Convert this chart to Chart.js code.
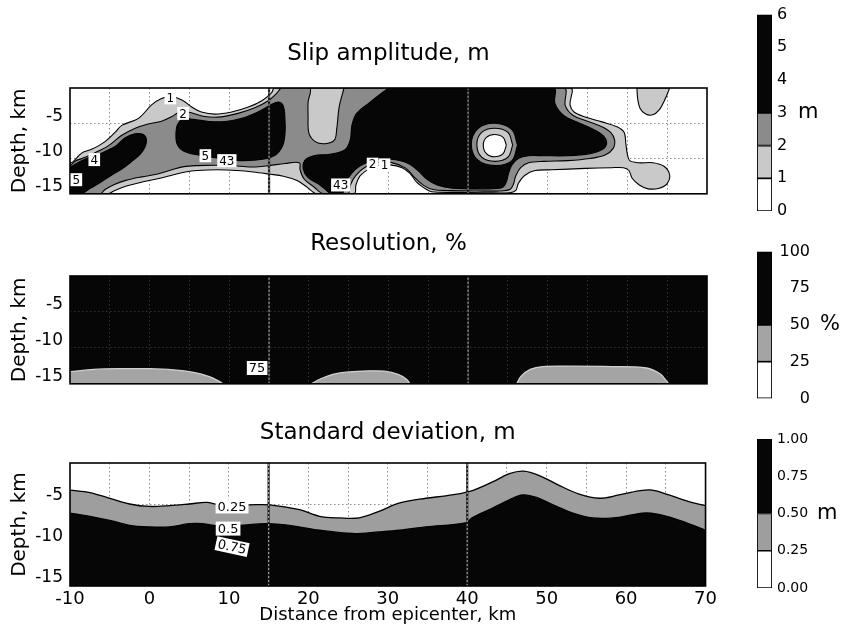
<!DOCTYPE html>
<html>
<head>
<meta charset="utf-8">
<title>Slip amplitude, resolution and standard deviation</title>
<script src="https://cdn.jsdelivr.net/npm/chart.js@4.4.1/dist/chart.umd.min.js"></script>
<style>
  html, body { margin: 0; padding: 0; background: #fff; }
  #wrap { position: relative; width: 851px; height: 636px; overflow: hidden; }
  canvas { position: absolute; }
</style>
</head>
<body>
<div id="wrap">
  <canvas id="slipChart" width="720" height="171" style="left:0;top:40px"></canvas>
  <canvas id="resChart" width="720" height="171" style="left:0;top:230px"></canvas>
  <canvas id="sdChart" width="720" height="211" style="left:0;top:419px"></canvas>
  <canvas id="slipBar" width="111" height="230" style="left:740px;top:0"></canvas>
  <canvas id="resBar" width="111" height="180" style="left:740px;top:235px"></canvas>
  <canvas id="sdBar" width="111" height="180" style="left:740px;top:425px"></canvas>
</div>
<script>
// ---- axes (distance along strike, depth), km
const X_MIN = -10, X_MAX = 70, DEPTH_MIN = -16, DEPTH_MAX = -1;
const xGrid = [-10, -5, 0, 5, 10, 15, 20, 25, 30, 35, 40, 45, 50, 55, 60, 65, 70];
const xTickLabels = [-10, 0, 10, 20, 30, 40, 50, 60, 70];
const depthTicks = [-15, -11, -10, -6, -5];
const depthTickLabels = [-15, -10, -5];
const depthGrid = [-11, -6];
const segmentEdges = [15, 40];

// ---- slip amplitude, contour outlines [distance, depth]
const slipAbove1 = [[-10,-16],[-10,-11.8],[-9.6,-11.45],[-8.5,-10.2],[-7.3,-9.7],[-5.6,-8.6],[-4.35,-7.3],[-3.5,-6.3],[-1.4,-5.3],[0.25,-3.4],[1.5,-2.5],[2.8,-2.2],[4.2,-2.8],[5.3,-3.7],[6.5,-4.4],[8.2,-4.7],[10.3,-4.4],[12.4,-3.7],[14.1,-2.8],[15.3,-1.7],[15.7,-1],
  [52.8,-1],[52.8,-3.4],[53.3,-4.4],[54.7,-5.1],[56.8,-5.8],[58.7,-6.5],[59.6,-7.3],[59.8,-8.8],[60,-10.4],[60.3,-11.3],[61.4,-11.6],[63.2,-11.6],[64.6,-12.1],[65.3,-13.3],[65,-14.55],[64,-15.2],[62.6,-15.3],[61.5,-14.75],[60.6,-13.8],[60.2,-12.7],[59.5,-12.3],[58,-12.3],[54.7,-12.4],[50.5,-12.6],[48.4,-12.7],[47.1,-13.4],[46.3,-14.55],[46,-15.5],[45.2,-15.85],[42,-15.85],[38,-15.8],[35.4,-15.7],
  [34.8,-15.4],[33.5,-14.3],[32.7,-13.1],[31.7,-12.3],[30.2,-11.9],[28.7,-11.95],[27.5,-12.5],[26.4,-13.5],[25.9,-14.8],[25.7,-16],
  [21,-16],[19.7,-15],[18.5,-14.1],[16.8,-13.5],[15,-13.2],[13,-12.9],[11,-12.7],[8.5,-12.6],[6,-12.7],[4.5,-12.9],[3,-13.3],[1.3,-13.8],[-0.8,-14.3],[-2.9,-14.9],[-4.5,-15.6],[-5.2,-16]];
const slipAbove2 = [[-10,-16],[-10,-12.3],[-9.3,-11.35],[-8.5,-11.0],[-6.9,-10.2],[-5.2,-9.2],[-3.5,-7.7],[-1.8,-6.7],[-0.2,-6.1],[1.5,-5.7],[2.8,-5.05],[3.6,-4.5],[4.8,-4.4],[6.9,-5.05],[9,-5.1],[11.1,-4.6],[13.2,-3.8],[14.9,-2.8],[16,-1.7],[16.6,-1],
  [20.1,-1],[19.9,-3],[19.9,-5],[20,-7.4],[20.8,-8.6],[22,-8.9],[23.2,-8.4],[23.5,-6.8],[23.8,-3.7],[24.3,-1.5],[24.5,-1],
  [52,-1],[52.2,-3.5],[53.2,-4.9],[55,-5.7],[56.8,-6.5],[57.9,-7.3],[58.4,-8.4],[58.2,-9.6],[57.2,-10.5],[55.3,-11],[52.5,-11.3],[49.5,-11.4],[47.6,-11.6],[46.6,-12.3],[46,-13.4],[45.7,-14.6],[45.3,-15.35],[44,-15.6],[41,-15.6],[38,-15.55],[35.6,-15.4],
  [34.4,-14.8],[33.2,-13.6],[32.2,-12.4],[30.3,-11.55],[28.6,-11.6],[27.1,-12.2],[25.9,-13.4],[25.2,-14.8],[24.9,-16],
  [21.8,-16],[20.6,-15],[19.4,-13.9],[18.9,-12.6],[18.8,-11.6],[17,-11.7],[15,-12],[13,-12.2],[11,-12.05],[8.5,-11.95],[6,-12],[4.3,-12.15],[2.8,-12.6],[1,-13.2],[-1,-13.6],[-3,-14.1],[-4.5,-14.7],[-5.6,-15.4],[-6.2,-16]];
const slipAbove3West = [[-10,-16],[-10,-12.5],[-9,-11.6],[-7.7,-10.9],[-6,-10.2],[-4.35,-9.3],[-3.1,-8.1],[-1.8,-7.5],[-0.8,-7.6],[-0.4,-8.35],[-0.6,-9.4],[-1.2,-10.4],[-2.3,-11.45],[-3.5,-12.5],[-5,-13.5],[-6.4,-14.55],[-7.7,-15.4],[-8.5,-16]];
const slipAbove3Mid = [[3.3,-7.3],[3.5,-6.2],[4.2,-5.4],[5.5,-5.45],[7.5,-5.75],[9.5,-5.75],[11.6,-5.3],[13.6,-4.4],[15.2,-3.4],[16.2,-3],[16.8,-3.6],[17,-5.5],[17,-7.5],[16.7,-9.2],[15.8,-10.5],[14.2,-11.1],[11.6,-11.3],[9,-11],[6.1,-10.5],[4.2,-9.9],[3.4,-8.8]];
const slipAbove3East = [[30,-1],[27.7,-3],[26,-4.6],[25.4,-6.3],[25.2,-8.35],[24.5,-9.8],[22.65,-10.4],[20.6,-10.6],[19.5,-11.25],[19.3,-12.5],[19.9,-13.7],[21.4,-14.75],[22.3,-15.6],[22.8,-16],
  [24.2,-16],[24.5,-14.6],[25.3,-13.2],[26.5,-12],[28.4,-11.2],[30.3,-11.1],[32.3,-11.6],[33.7,-12.7],[34.8,-13.9],[36.2,-14.8],[38,-15.2],[42,-15.3],[44.3,-15.1],
  [44.8,-14.3],[45.1,-13],[45.5,-11.9],[46.3,-11],[47.6,-10.6],[49.5,-10.6],[52.5,-10.6],[55.3,-10.3],[56.9,-9.7],[57.4,-8.8],[57,-7.8],[55.8,-6.9],[54,-6],[52,-4.9],[50.9,-3.2],[50.7,-1]];
const slipPatchNE = [[61.2,-1],[61.3,-2.6],[61.6,-3.9],[62.3,-4.7],[63.2,-4.8],[64,-4.1],[64.6,-2.9],[65.1,-1.6],[65.2,-1]];
const slipRing2 = [[46.2,-9.1],[45.5,-6.9],[43.3,-6],[41.2,-6.8],[40.4,-9],[41.2,-11.2],[43.4,-12],[45.5,-11.3]];
const slipRing1 = [[45.6,-9.1],[45,-7.3],[43.3,-6.7],[41.7,-7.3],[41.1,-9],[41.7,-10.8],[43.4,-11.4],[45,-10.8]];
const slipHole = [[44.8,-9.1],[44.4,-8],[43.3,-7.6],[42.3,-8],[41.9,-9.1],[42.3,-10.3],[43.3,-10.75],[44.4,-10.3]];
const slipLabelText = ['1', '2', '4', '5', '43', '5', '43', '2', '1'];
const slipLabelX = [2.6, 4.2, -6.95, 7.0, 9.7, -9.2, 24.0, 28.0, 29.5];
const slipLabelY = [-2.4, -4.6, -11.15, -10.6, -11.3, -14.0, -14.75, -11.8, -11.9];

// ---- resolution, 50 % outlines rising from the bottom edge
const res1Dist = [-10, -7, -4, 0, 3, 5.5, 7.5, 8.8, 9.2];
const res1Depth = [-14.3, -14.0, -13.9, -13.9, -14.05, -14.4, -15.0, -15.7, -16];
const res2Dist = [20.3, 21.5, 23, 25, 27.5, 29.5, 31.2, 32.3, 32.7];
const res2Depth = [-16, -15.3, -14.7, -14.35, -14.2, -14.25, -14.7, -15.4, -16];
const res3Dist = [46.1, 46.6, 47.8, 49.4, 53, 58, 62.4, 64.1, 64.9, 65.2];
const res3Depth = [-16, -15, -14, -13.6, -13.55, -13.6, -13.8, -14.6, -15.6, -16];
const resLabelText = ['75'], resLabelX = [13.5], resLabelY = [-13.8];

// ---- standard deviation, 0.25 m and 0.5 m contours
const sd25Dist = [-10, -7.5, -5, -2.5, 0, 2.5, 5, 7.2, 8.8, 12.6, 15.1, 18.9, 21.4, 23.9, 26.4, 28.9, 31.4, 34.8, 37.3, 40.2, 43.2, 45.3, 47.1, 49, 51.5, 54.1, 56.6, 59.1, 61.6, 63.3, 65.4, 67.9, 70];
const sd25Depth = [-4.3, -4.6, -5.3, -6, -6.3, -6.2, -6, -5.8, -6.1, -6.1, -6.1, -6.7, -7.5, -7.7, -7.7, -6.9, -5.9, -5.3, -5, -4.5, -3.3, -2.3, -2, -2.5, -3.7, -4.8, -5.3, -4.9, -4.4, -4.3, -4.9, -5.7, -6.2];
const sd50Dist = [-10, -7.5, -5, -2.5, 0, 2.5, 5, 6.7, 8.8, 11.3, 14.7, 17.6, 21.4, 25.6, 28.9, 31.5, 34.8, 39.8, 40.6, 43.2, 45.3, 47, 48.7, 50.8, 53.3, 55.8, 58.4, 60.9, 62.6, 65.1, 67.6, 70];
const sd50Depth = [-7.1, -7.5, -8, -8.6, -8.8, -8.8, -8.4, -8.4, -8.7, -8.6, -8.4, -8.6, -9.2, -9.6, -9.4, -9.2, -8.8, -8.3, -7.7, -6.5, -5.5, -4.9, -5.2, -6.1, -7.1, -7.7, -7.7, -7.3, -7.1, -7.5, -8.3, -9.2];
const sdLabelText = ['0.25', '0.5', '0.75'];
const sdLabelX = [10.4, 9.9, 10.4];
const sdLabelY = [-6.3, -9.0, -11.2];
const sdLabelRot = [0, 0, 12];

// ---- colour scales
const slipLevels = [0, 1, 2, 3, 6];
const slipShades = ['#ffffff', '#c9c9c9', '#8b8b8b', '#060606'];
const slipBarTicks = [0, 1, 2, 3, 4, 5, 6];
const resLevels = [0, 25, 50, 100];
const resShades = ['#ffffff', '#a4a4a4', '#060606'];
const resBarTicks = [0, 25, 50, 75, 100];
const sdLevels = [0, 0.25, 0.5, 1];
const sdShades = ['#ffffff', '#9e9e9e', '#060606'];
const sdBarTicks = [0, 0.25, 0.5, 0.75, 1];

const LIGHT = '#c9c9c9', DARK = '#8b8b8b', INK = '#060606';

Chart.defaults.font.family = "'DejaVu Sans', 'Liberation Sans', sans-serif";
Chart.defaults.color = '#000';

// ---- small plugins
const areaFill = {
  id: 'areaFill',
  beforeDraw(chart, args, o) {
    if (!o.color) return;
    const { ctx, chartArea: a } = chart;
    ctx.save(); ctx.fillStyle = o.color;
    ctx.fillRect(a.left, a.top, a.right - a.left, a.bottom - a.top);
    ctx.restore();
  }
};
const frame = {
  id: 'frame',
  afterDatasetsDraw(chart) {
    const { ctx, chartArea: a } = chart;
    ctx.save(); ctx.strokeStyle = '#000'; ctx.lineWidth = 1.6;
    ctx.strokeRect(a.left, a.top, a.right - a.left, a.bottom - a.top);
    ctx.restore();
  }
};
const contourLabels = {
  id: 'contourLabels',
  afterDatasetsDraw(chart, args, o) {
    if (!o.text) return;
    const { ctx, scales: { x, y } } = chart;
    ctx.save();
    ctx.font = o.size + "px 'DejaVu Sans'";
    o.text.forEach((t, i) => {
      const w = ctx.measureText(t).width + 4, h = o.size + 1;
      ctx.save();
      ctx.translate(x.getPixelForValue(o.x[i]), y.getPixelForValue(o.y[i]));
      ctx.rotate(((o.rot && o.rot[i]) || 0) * Math.PI / 180);
      ctx.fillStyle = '#fff'; ctx.fillRect(-w / 2, -h / 2, w, h);
      ctx.fillStyle = '#000'; ctx.textAlign = 'center'; ctx.textBaseline = 'middle';
      ctx.fillText(t, 0, 1);
      ctx.restore();
    });
    ctx.restore();
  }
};
const unitLabel = {
  id: 'unitLabel',
  afterDraw(chart, args, o) {
    const { ctx, chartArea } = chart;
    ctx.save(); ctx.font = "21px 'DejaVu Sans'"; ctx.fillStyle = '#000'; ctx.textBaseline = 'middle';
    ctx.fillText(o.text, chartArea.right + o.dx, chart.scales.y.getPixelForValue(o.at));
    ctx.restore();
  }
};

// ---- dataset helpers
const closed = pts => pts.concat([pts[0]]).map(([x, y]) => ({ x, y }));
const xy = (xs, ys) => xs.map((x, i) => ({ x, y: ys[i] }));
const shape = (pts, color, order) => ({ data: closed(pts), showLine: true, fill: 'shape', backgroundColor: color, borderColor: '#000', borderWidth: 1.1, pointRadius: 0, order });
const band = (xs, ys, color, line, order) => ({ data: xy(xs, ys), showLine: true, fill: 'start', backgroundColor: color, borderColor: line, borderWidth: 1.3, pointRadius: 0, order });
const edges = light => segmentEdges.flatMap(x => [
  { data: [{ x, y: DEPTH_MIN }, { x, y: DEPTH_MAX }], showLine: true, fill: false, tension: 0, borderColor: light, borderWidth: 1.2, borderDash: [2, 2], pointRadius: 0, order: 0 },
  { data: [{ x, y: DEPTH_MIN }, { x, y: DEPTH_MAX }], showLine: true, fill: false, tension: 0, borderColor: '#1a1a1a', borderWidth: 2.2, pointRadius: 0, order: 1 }
]);

const gridX = xGrid.filter(v => v !== X_MIN && v !== X_MAX && !segmentEdges.includes(v));

function xScale(showLabels, gridColor) {
  return {
    type: 'linear', min: X_MIN, max: X_MAX,
    afterBuildTicks: s => { s.ticks = xGrid.map(v => ({ value: v })); },
    afterFit: s => { s.height = showLabels ? 44 : 0; },
    grid: { drawTicks: false, color: c => (c.tick && gridX.includes(c.tick.value)) ? gridColor : 'rgba(0,0,0,0)' },
    border: { display: false, dash: [1.5, 2.5] },
    ticks: { display: showLabels, padding: 3, autoSkip: false, maxRotation: 0, font: { size: 18 },
      callback: v => xTickLabels.includes(v) ? String(v) : '' },
    title: { display: showLabels, text: 'Distance from epicenter, km', font: { size: 18 }, padding: { top: 0, bottom: 4 } }
  };
}
function yScale(gridColor) {
  return {
    type: 'linear', min: DEPTH_MIN, max: DEPTH_MAX,
    afterBuildTicks: s => { s.ticks = depthTicks.map(v => ({ value: v })); },
    afterFit: s => { s.width = 70; },
    grid: { drawTicks: false, color: c => (c.tick && depthGrid.includes(c.tick.value)) ? gridColor : 'rgba(0,0,0,0)' },
    border: { display: false, dash: [1.5, 2.5] },
    ticks: { padding: 7, autoSkip: false, font: { size: 17 },
      callback: v => depthTickLabels.includes(v) ? String(v) : '' },
    title: { display: true, text: 'Depth, km', font: { size: 20 }, padding: { top: 8, bottom: 0 } }
  };
}

function panel(id, title, titleGap, datasets, cfg) {
  return new Chart(document.getElementById(id), {
    type: 'scatter',
    data: { datasets },
    options: {
      responsive: false, animation: false, events: [], devicePixelRatio: 1,
      layout: { padding: { left: 0, right: 13, top: 0, bottom: cfg.xLabels ? 0 : 2 } },
      elements: { point: { radius: 0 }, line: { tension: 0.35 } },
      plugins: {
        legend: { display: false }, tooltip: { enabled: false },
        title: { display: true, text: title, fullSize: false, font: { size: 23, weight: 'normal' }, padding: { top: 0, bottom: titleGap } },
        areaFill: { color: cfg.bg || null },
        contourLabels: cfg.labels
      },
      scales: { x: xScale(!!cfg.xLabels, cfg.grid), y: yScale(cfg.grid) }
    },
    plugins: [areaFill, frame, contourLabels]
  });
}

// bar area sits 17px into each 111px canvas and is 15px wide
function colorBar(id, levels, shades, ticks, fmt, tickStyle, pad, unit) {
  return new Chart(document.getElementById(id), {
    type: 'bar',
    data: {
      labels: [''],
      datasets: shades.map((c, i) => ({
        data: [[levels[i], levels[i + 1]]], backgroundColor: c, borderColor: '#000', borderWidth: 1.2,
        borderSkipped: false, grouped: false, barPercentage: 1, categoryPercentage: 1
      }))
    },
    options: {
      responsive: false, animation: false, events: [], devicePixelRatio: 1,
      layout: { padding: { left: 17, top: pad.top, bottom: pad.bottom, right: 79 - tickStyle.width } },
      plugins: { legend: { display: false }, tooltip: { enabled: false }, unitLabel: unit },
      scales: {
        x: { display: false },
        y: {
          position: 'right', min: levels[0], max: levels[levels.length - 1],
          afterBuildTicks: s => { s.ticks = ticks.map(v => ({ value: v })); },
          afterFit: s => { s.width = tickStyle.width; },
          grid: { display: false, drawTicks: false }, border: { display: false },
          ticks: { font: { size: tickStyle.size }, padding: tickStyle.padding, crossAlign: tickStyle.align, autoSkip: false, callback: fmt }
        }
      }
    },
    plugins: [unitLabel]
  });
}

// ---- slip amplitude
panel('slipChart', 'Slip amplitude, m', 20.4, [
  shape(slipAbove1, LIGHT, 9), shape(slipPatchNE, LIGHT, 9),
  shape(slipAbove2, DARK, 8),
  shape(slipAbove3West, INK, 7), shape(slipAbove3Mid, INK, 7), shape(slipAbove3East, INK, 7),
  shape(slipRing2, DARK, 6), shape(slipRing1, LIGHT, 5), shape(slipHole, '#ffffff', 4),
  ...edges('#9a9a9a')
], { grid: '#8a8a8a', labels: { text: slipLabelText, x: slipLabelX, y: slipLabelY, size: 12 } });

// ---- resolution
panel('resChart', 'Resolution, %', 18.4, [
  band(res1Dist, res1Depth, '#a4a4a4', '#d0d0d0', 3),
  band(res2Dist, res2Depth, '#a4a4a4', '#d0d0d0', 3),
  band(res3Dist, res3Depth, '#a4a4a4', '#d0d0d0', 3),
  ...edges('#a0a0a0')
], { grid: '#333333', bg: INK, labels: { text: resLabelText, x: resLabelX, y: resLabelY, size: 13 } });

// ---- standard deviation
panel('sdChart', 'Standard deviation, m', 16.4, [
  band(sd25Dist, sd25Depth, '#9e9e9e', '#000', 3),
  band(sd50Dist, sd50Depth, INK, '#000', 2),
  ...edges('#9a9a9a')
], { grid: '#8a8a8a', xLabels: true, labels: { text: sdLabelText, x: sdLabelX, y: sdLabelY, rot: sdLabelRot, size: 13 } });

// ---- colour bars
colorBar('slipBar', slipLevels, slipShades, slipBarTicks, v => String(v),
  { size: 16, padding: 5, align: 'near', width: 79 }, { top: 14, bottom: 19 }, { text: 'm', at: 3, dx: 26 });
colorBar('resBar', resLevels, resShades, resBarTicks, v => String(v),
  { size: 16, padding: 7, align: 'far', width: 38 }, { top: 15, bottom: 15 }, { text: '%', at: 50, dx: 48 });
colorBar('sdBar', sdLevels, sdShades, sdBarTicks, v => v.toFixed(2),
  { size: 14, padding: 5, align: 'near', width: 79 }, { top: 14, bottom: 17 }, { text: 'm', at: 0.5, dx: 45 });
</script>
</body>
</html>
